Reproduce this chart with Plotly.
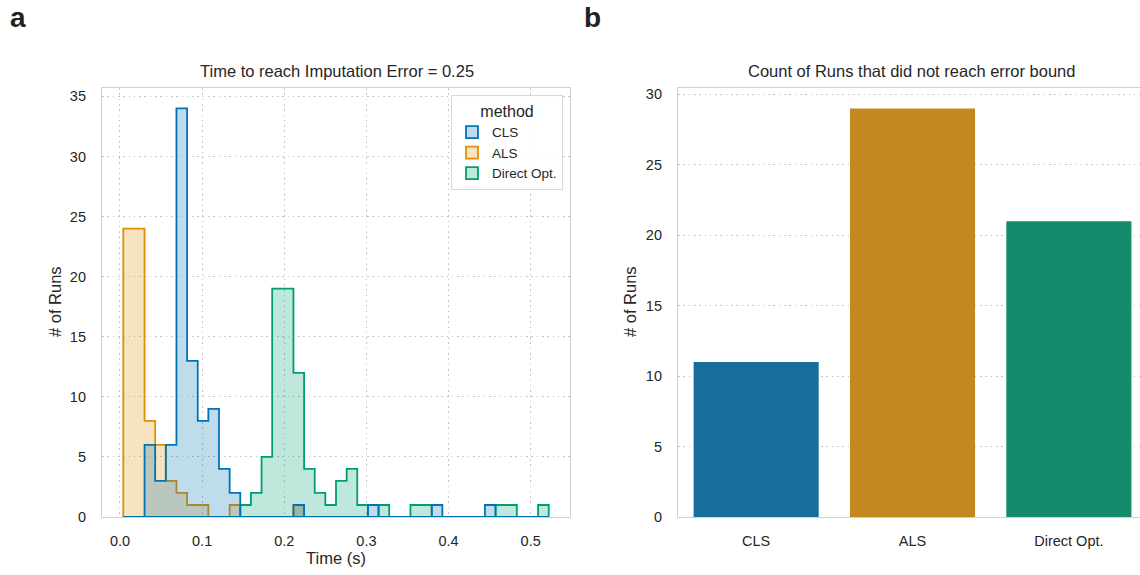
import plotly.graph_objects as go

# ---------------- data ----------------
methods = ["CLS", "ALS", "Direct Opt."]
bin_start = 0.004
bin_width = 0.01295
n_bins = 40

# histogram counts per bin (40 common bins)
cls_counts = [0, 0, 6, 3, 6, 34, 13, 8, 9, 4,
              2, 0, 0, 0, 0, 0, 1, 0, 0, 0,
              0, 0, 0, 1, 0, 0, 0, 0, 0, 1,
              0, 0, 0, 0, 1, 0, 0, 0, 0, 0]
als_counts = [24, 24, 8, 6, 3, 2, 1, 1, 0, 0,
              1, 0, 0, 0, 0, 0, 1, 0, 0, 0,
              0, 0, 0, 0, 0, 0, 0, 0, 0, 0,
              0, 0, 0, 0, 0, 0, 0, 0, 0, 0]
direct_counts = [0, 0, 0, 0, 0, 0, 0, 0, 0, 0,
                 0, 1, 2, 5, 19, 19, 12, 4, 2, 1,
                 3, 4, 1, 0, 1, 0, 0, 1, 1, 0,
                 0, 0, 0, 0, 0, 1, 1, 0, 0, 1]

not_reached = [11, 29, 21]

x_ticks = [0.0, 0.1, 0.2, 0.3, 0.4, 0.5]
y_ticks_left = [0, 5, 10, 15, 20, 25, 30, 35]
y_ticks_right = [0, 5, 10, 15, 20, 25, 30]

line_colors = ["#0173b2", "#de8f05", "#029e73"]
fill_colors = ["rgba(1,115,178,0.25)", "rgba(222,143,5,0.25)", "rgba(2,158,115,0.25)"]
bar_colors = ["#176d9c", "#c38820", "#158a6a"]

W, H = 1140, 575
FONT = "Liberation Sans, Arial, sans-serif"
TXT = "#262626"
TICK = 14.5
LABEL = 16.5

def px(x):
    return x / W

def py(y):
    return 1 - y / H

edges = [bin_start + i * bin_width for i in range(n_bins + 1)]

def step_polygon(counts):
    xs, ys = [edges[0]], [0]
    for i, c in enumerate(counts):
        xs += [edges[i], edges[i + 1]]
        ys += [c, c]
    xs += [edges[-1], edges[0]]
    ys += [0, 0]
    return xs, ys

fig = go.Figure()

counts_all = [cls_counts, als_counts, direct_counts]
# draw in reverse hue order (Direct Opt. first, CLS on top)
for k in [2, 1, 0]:
    xs, ys = step_polygon(counts_all[k])
    fig.add_trace(go.Scatter(
        x=xs, y=ys, mode="lines", fill="toself",
        fillcolor=fill_colors[k],
        line=dict(color=line_colors[k], width=1.8),
        showlegend=False, hoverinfo="skip",
        xaxis="x", yaxis="y"))

# legend-only entries
for k in range(3):
    fig.add_trace(go.Bar(
        x=[None], y=[None], name=methods[k],
        marker=dict(color=fill_colors[k], line=dict(color=line_colors[k], width=1.8)),
        xaxis="x", yaxis="y", showlegend=True))

# right panel bars
fig.add_trace(go.Bar(
    x=methods, y=not_reached, width=0.8,
    marker=dict(color=bar_colors, line=dict(width=0)),
    showlegend=False, xaxis="x2", yaxis="y2"))

ydom = [py(517), py(88)]
GRID = dict(showgrid=True, gridcolor="#c4c4c4", gridwidth=1.3, griddash="1.6px,3.7px")
axis_common = dict(
    showline=True, linecolor="#d0d0d0", linewidth=1.25,
    tickfont=dict(family=FONT, size=TICK, color=TXT),
    zeroline=False, automargin=False, layer="below traces",
)

fig.update_layout(
    width=W, height=H,
    margin=dict(l=0, r=0, t=0, b=0),
    paper_bgcolor="white", plot_bgcolor="white",
    font=dict(family=FONT, color=TXT),
    xaxis=dict(domain=[px(102), px(570)], range=[-0.0219, 0.5479],
               tickvals=x_ticks, ticktext=[f"{v:.1f}" for v in x_ticks],
               mirror=True, ticks="", ticklabelstandoff=10, anchor="y",
               **GRID, **axis_common),
    yaxis=dict(domain=ydom, range=[0, 35.7], tickvals=y_ticks_left,
               mirror=True, ticks="", ticklabelstandoff=12, anchor="x",
               **GRID, **axis_common),
    xaxis2=dict(domain=[px(678), 1.0], range=[-0.5, 2.455], type="category",
                showgrid=False, mirror=True, ticks="", ticklabelstandoff=10,
                anchor="y2", **axis_common),
    yaxis2=dict(domain=ydom, range=[0, 30.45], tickvals=y_ticks_right,
                mirror=False, ticks="", ticklabelstandoff=12, anchor="x2",
                **GRID, **axis_common),
    legend=dict(
        x=px(563), y=py(95), xanchor="right", yanchor="top",
        bgcolor="rgba(255,255,255,0.85)", bordercolor="#d8d8d8", borderwidth=1,
        font=dict(family=FONT, size=13.5, color=TXT),
        title=dict(text="method", side="top center",
                   font=dict(family=FONT, size=16, color=TXT)),
        tracegroupgap=0, itemwidth=30,
    ),
    bargap=0.2,
)

ann = []
ann.append(dict(text="<b>a</b>", x=px(8), y=py(18), xref="paper", yref="paper",
                xanchor="left", yanchor="middle", showarrow=False,
                font=dict(family=FONT, size=28, color="#222222")))
ann.append(dict(text="<b>b</b>", x=px(582), y=py(18), xref="paper", yref="paper",
                xanchor="left", yanchor="middle", showarrow=False,
                font=dict(family=FONT, size=28, color="#222222")))
ann.append(dict(text="Time to reach Imputation Error = 0.25", x=px(337), y=py(71.5),
                xref="paper", yref="paper", xanchor="center", yanchor="middle",
                showarrow=False, font=dict(family=FONT, size=LABEL, color=TXT)))
ann.append(dict(text="Count of Runs that did not reach error bound", x=px(911), y=py(71.5),
                xref="paper", yref="paper", xanchor="center", yanchor="middle",
                showarrow=False, font=dict(family=FONT, size=LABEL, color=TXT)))
ann.append(dict(text="Time (s)", x=px(336), y=py(558),
                xref="paper", yref="paper", xanchor="center", yanchor="middle",
                showarrow=False, font=dict(family=FONT, size=LABEL, color=TXT)))
ann.append(dict(text="# of Runs", x=px(55), y=py(302), textangle=-90,
                xref="paper", yref="paper", xanchor="center", yanchor="middle",
                showarrow=False, font=dict(family=FONT, size=LABEL, color=TXT)))
ann.append(dict(text="# of Runs", x=px(630), y=py(302), textangle=-90,
                xref="paper", yref="paper", xanchor="center", yanchor="middle",
                showarrow=False, font=dict(family=FONT, size=LABEL, color=TXT)))
fig.update_layout(annotations=ann)

fig.write_html("out.html")
